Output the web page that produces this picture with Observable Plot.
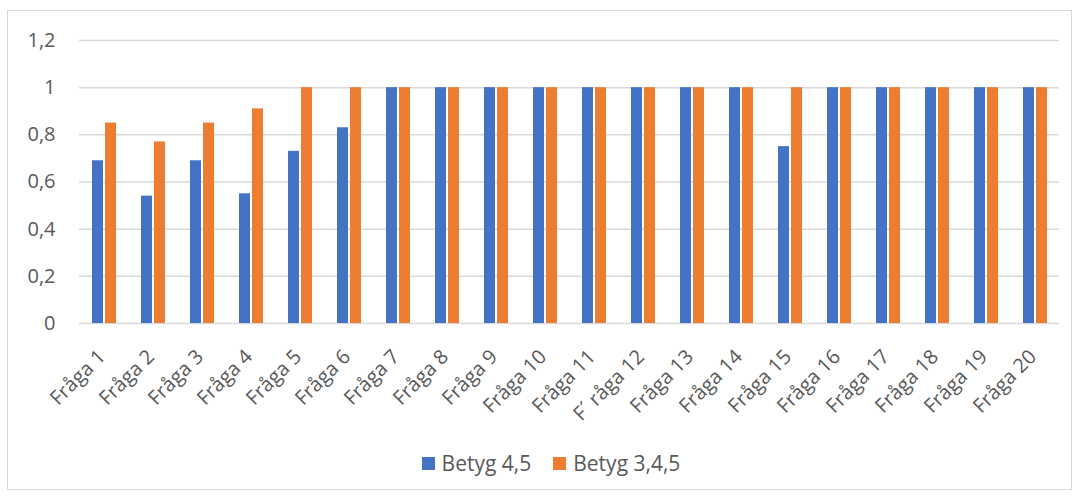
<!DOCTYPE html>
<html>
<head>
<meta charset="utf-8">
<script src="https://cdn.jsdelivr.net/npm/d3@7"></script>
<script src="https://cdn.jsdelivr.net/npm/@observablehq/plot@0.6"></script>
<style>
  body { margin: 0; background: #fff; font-family: "Open Sans", sans-serif; }
  #wrap { position: relative; width: 1078px; height: 497px; overflow: hidden; }
  #frame { position: absolute; left: 7px; top: 10px; width: 1063px; height: 478px; border: 1px solid #d9d9d9; }
  #chart { position: absolute; left: 0; top: 0; }
  #legend { position: absolute; left: 0; top: 449px; width: 1054px; padding-left: 24px; display: flex; justify-content: center; gap: 22px; font-size: 21px; color: #595959; }
  .item { display: flex; align-items: center; gap: 7px; }
  .sw { width: 13px; height: 13px; display: inline-block; }
</style>
</head>
<body>
<div id="wrap">
  <div id="frame"></div>
  <div id="chart"></div>
  <div id="legend"></div>
</div>
<script>
const questions = ["Fråga 1","Fråga 2","Fråga 3","Fråga 4","Fråga 5","Fråga 6","Fråga 7","Fråga 8","Fråga 9","Fråga 10","Fråga 11","F´ råga 12","Fråga 13","Fråga 14","Fråga 15","Fråga 16","Fråga 17","Fråga 18","Fråga 19","Fråga 20"];
const seriesNames = ["Betyg 4,5", "Betyg 3,4,5"];
const betyg45 = [0.69,0.54,0.69,0.55,0.73,0.83,1,1,1,1,1,1,1,1,0.75,1,1,1,1,1];
const betyg345 = [0.85,0.77,0.85,0.91,1,1,1,1,1,1,1,1,1,1,1,1,1,1,1,1];
const colors = ["#4472C4", "#ED7D31"];
const yTicks = [0, 0.2, 0.4, 0.6, 0.8, 1, 1.2];

const rows = [];
questions.forEach((q, i) => {
  rows.push({question: q, series: seriesNames[0], value: betyg45[i]});
  rows.push({question: q, series: seriesNames[1], value: betyg345[i]});
});

const fmt = d => String(d).replace(".", ",");

const plot = Plot.plot({
  width: 1078,
  height: 440,
  marginLeft: 76,
  marginRight: 16,
  marginTop: 40,
  marginBottom: 117,
  style: {fontFamily: "Open Sans, sans-serif", color: "#595959", background: "transparent"},
  fx: {domain: questions, padding: 0, label: null},
  x: {domain: seriesNames, paddingInner: 0.19, paddingOuter: 0.855, axis: null},
  y: {domain: [0, 1.2], label: null},
  color: {domain: seriesNames, range: colors},
  marks: [
    Plot.ruleY(yTicks, {stroke: "#d9d9d9", strokeWidth: 1.5}),
    Plot.barY(rows, {fx: "question", x: "series", y: "value", fill: "series"}),
    Plot.axisY(yTicks, {tickSize: 0, tickPadding: 24, tickFormat: fmt, fontSize: 20, label: null}),
    Plot.axisFx({anchor: "bottom", tickSize: 0, tickRotate: -45, tickPadding: 30, dx: -2, fontSize: 20, label: null})
  ]
});
document.getElementById("chart").appendChild(plot);

const legend = document.getElementById("legend");
seriesNames.forEach((s, i) => {
  const it = document.createElement("div");
  it.className = "item";
  const sw = document.createElement("span");
  sw.className = "sw";
  sw.style.background = colors[i];
  const tx = document.createElement("span");
  tx.textContent = s;
  it.appendChild(sw); it.appendChild(tx);
  legend.appendChild(it);
});
</script>
</body>
</html>
